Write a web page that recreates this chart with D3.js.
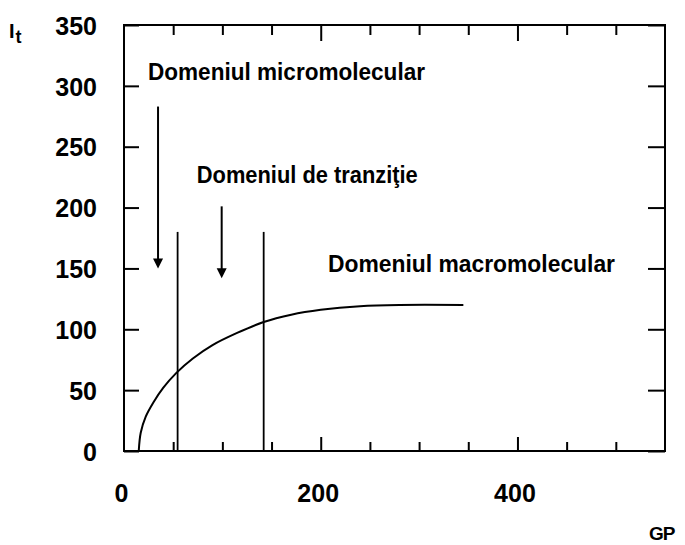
<!DOCTYPE html>
<html>
<head>
<meta charset="utf-8">
<script src="https://cdn.jsdelivr.net/npm/d3@7"></script>
<style>
  body { margin: 0; background: #fff; }
  svg { display: block; font-family: 'Liberation Sans', Arial, sans-serif; }
  .axis path { display: none; }
  .ticks line { stroke: #000; stroke-width: 2; }
</style>
</head>
<body>
<div id="chart"></div>
<script>
// curve: degree of polymerisation vs It
const gpValues = [15, 17, 22, 30, 40, 53, 70, 90, 115, 142, 170, 200, 240, 280, 345];
const itValues = [0, 15, 28, 40, 52, 64, 76, 87, 97, 106, 112, 116, 119, 120, 120];

// borders between the three domains (GP) and how high they go
const boundaries = [54.5, 142];
const boundaryTop = 180;

// arrows: GP position, start value, tip value
const arrowGp = [34.6, 99.3];
const arrowFrom = [283, 201];
const arrowTo = [150, 142];

// annotations: text, GP of left edge, baseline value, width in px
const noteText = ['Domeniul micromolecular', 'Domeniul de tranziţie', 'Domeniul macromolecular'];
const noteGp = [24.4, 74, 207.4];
const noteVal = [304.8, 220, 147.3];
const noteWidth = [277, 221, 287];

const xLabels = [0, 200, 400];
const yLabels = [0, 50, 100, 150, 200, 250, 300, 350];
const xMinor = [50, 100, 150, 250, 300, 350, 450, 500];
const xMajor = [200, 400];

const width = 685;
const height = 545;
const area = { left: 124, right: 665, top: 25, bottom: 451 };

const svg = d3.select('#chart')
  .append('svg')
  .attr('width', width)
  .attr('height', height);

const xScale = d3.scaleLinear().domain([0, 550]).range([area.left, area.right]);
const yScale = d3.scaleLinear().domain([0, 350]).range([area.bottom, area.top]);

// inward ticks on all four sides
const ticks = svg.append('g').attr('class', 'ticks');

ticks.append('g').attr('class', 'axis')
  .attr('transform', `translate(${area.left},0)`)
  .call(d3.axisLeft(yScale).tickValues(yLabels).tickSize(-15).tickFormat(''));
ticks.append('g').attr('class', 'axis')
  .attr('transform', `translate(${area.right},0)`)
  .call(d3.axisRight(yScale).tickValues(yLabels).tickSize(-17).tickFormat(''));

ticks.append('g').attr('class', 'axis')
  .attr('transform', `translate(0,${area.bottom})`)
  .call(d3.axisBottom(xScale).tickValues(xMinor).tickSize(-9).tickFormat(''));
ticks.append('g').attr('class', 'axis')
  .attr('transform', `translate(0,${area.bottom})`)
  .call(d3.axisBottom(xScale).tickValues(xMajor).tickSize(-14).tickFormat(''));

ticks.append('g').attr('class', 'axis')
  .attr('transform', `translate(0,${area.top})`)
  .call(d3.axisTop(xScale).tickValues(xMinor).tickSize(-10).tickFormat(''));
ticks.append('g').attr('class', 'axis')
  .attr('transform', `translate(0,${area.top})`)
  .call(d3.axisTop(xScale).tickValues(xMajor).tickSize(-16).tickFormat(''));

// frame
svg.append('rect')
  .attr('x', area.left)
  .attr('y', area.top)
  .attr('width', area.right - area.left)
  .attr('height', area.bottom - area.top)
  .attr('fill', 'none')
  .attr('stroke', '#000')
  .attr('stroke-width', 2);

// tick labels
const yAxis = svg.append('g').attr('class', 'axis')
  .attr('transform', `translate(${area.left},0)`)
  .call(d3.axisLeft(yScale).tickValues(yLabels).tickSize(0).tickPadding(27));
yAxis.selectAll('text')
  .attr('dy', '0.37em')
  .style('font-size', '25px')
  .style('font-weight', 'bold')
  .attr('fill', '#000');

const xAxis = svg.append('g').attr('class', 'axis')
  .attr('transform', `translate(-3,${area.bottom})`)
  .call(d3.axisBottom(xScale).tickValues(xLabels).tickSize(0).tickPadding(33));
xAxis.selectAll('text')
  .style('font-size', '25px')
  .style('font-weight', 'bold')
  .attr('fill', '#000');

// axis titles
const yTitle = svg.append('text')
  .attr('x', 9)
  .attr('y', 38)
  .style('font-size', '20px')
  .style('font-weight', 'bold');
yTitle.append('tspan').text('I');
yTitle.append('tspan').attr('dx', 1).attr('dy', 5).style('font-size', '18px').text('t');

svg.append('text')
  .attr('x', 649)
  .attr('y', 540)
  .style('font-size', '19px')
  .style('font-weight', 'bold')
  .style('letter-spacing', '-1px')
  .text('GP');

// domain borders
svg.append('g')
  .selectAll('line')
  .data(boundaries)
  .join('line')
  .attr('x1', (d) => xScale(d))
  .attr('x2', (d) => xScale(d))
  .attr('y1', yScale(0))
  .attr('y2', yScale(boundaryTop))
  .attr('stroke', '#000')
  .attr('stroke-width', 1.8);

// the curve
const points = gpValues.map((g, i) => [g, itValues[i]]);
const line = d3.line()
  .x((d) => xScale(d[0]))
  .y((d) => yScale(d[1]))
  .curve(d3.curveCatmullRom.alpha(0.5));

svg.append('path')
  .datum(points)
  .attr('d', line)
  .attr('fill', 'none')
  .attr('stroke', '#000')
  .attr('stroke-width', 2);

// arrows
const arrows = svg.append('g');
arrowGp.forEach((g, i) => {
  const x = xScale(g);
  const yTip = yScale(arrowTo[i]);
  arrows.append('line')
    .attr('x1', x).attr('x2', x)
    .attr('y1', yScale(arrowFrom[i]))
    .attr('y2', yTip - 8)
    .attr('stroke', '#000')
    .attr('stroke-width', 2);
  arrows.append('path')
    .attr('d', `M${x - 5},${yTip - 10}L${x + 5},${yTip - 10}L${x},${yTip}Z`)
    .attr('fill', '#000');
});

// annotations
svg.append('g')
  .selectAll('text')
  .data(noteText)
  .join('text')
  .attr('x', (d, i) => xScale(noteGp[i]))
  .attr('y', (d, i) => yScale(noteVal[i]))
  .attr('textLength', (d, i) => noteWidth[i])
  .attr('lengthAdjust', 'spacingAndGlyphs')
  .style('font-size', '23px')
  .style('font-weight', 'bold')
  .text((d) => d);
</script>
</body>
</html>
